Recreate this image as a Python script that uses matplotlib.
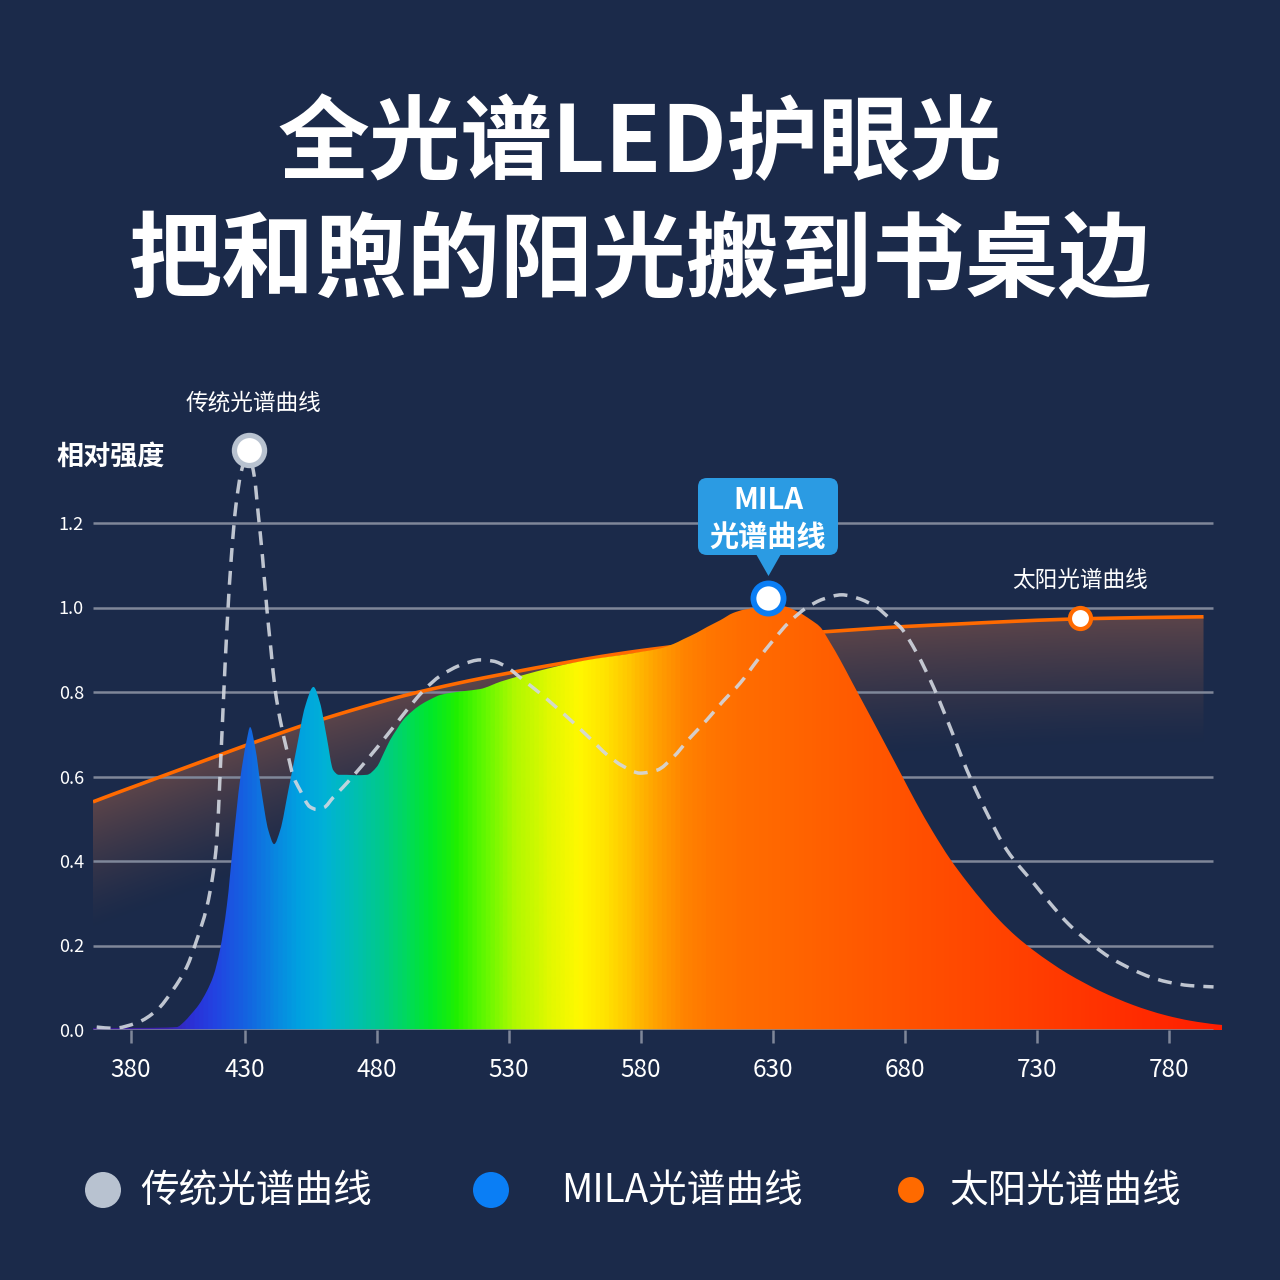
import numpy as np
import matplotlib
matplotlib.use("Agg")
import matplotlib.pyplot as plt
from matplotlib.colors import LinearSegmentedColormap
from matplotlib.patches import FancyBboxPatch, Polygon, Circle, PathPatch
from matplotlib.path import Path

plt.rcParams['font.family'] = ['Noto Sans CJK SC', 'DejaVu Sans']

BG = '#1b2a4a'
GRID = '#7f8799'

title_lines = ['全光谱LED护眼光', '把和煦的阳光搬到书桌边']
y_title = '相对强度'
legend_labels = ['传统光谱曲线', 'MILA光谱曲线', '太阳光谱曲线']
legend_colors = ['#b8c2d0', '#0a7ef5', '#ff6a00']

x_ticks = [386.8, 430, 480, 530, 580, 630, 680, 730, 780]
x_tick_labels = ['380', '430', '480', '530', '580', '630', '680', '730', '780']
y_ticks = [0.0, 0.2, 0.4, 0.6, 0.8, 1.0, 1.2]

# traditional LED spectrum (dashed)
trad_wl = [373.8, 380, 389, 396.6, 402.7, 407.9, 411.7, 415.5, 417.9, 419.3,
           420.5, 421.8, 423.2, 424.8, 426.5, 428.5, 430.5, 432.0, 433.5, 435.0,
           436.6, 438.2, 439.8, 441.4, 443.3, 445.8, 448.3, 450.8, 454.6, 457.2,
           460.0, 463.3, 467.0, 470.9, 477.3, 483.8, 488.7, 493.6, 498.0, 503.9,
           512.6, 519.0, 524.0, 529.1, 535.0, 541.7, 548.0, 554.4, 561.0, 567.0,
           573.0, 579.6, 586.0, 592.2, 598.0, 604.9, 611.0, 617.5, 624.0, 630.1,
           636.0, 642.8, 649.0, 656.0, 662.0, 669.3, 674.0, 678.1, 684.4, 690.7,
           697.0, 703.4, 710.9, 718.5, 728.6, 734.9, 742.0, 750.0, 758.0, 766.5,
           773.0, 779.1, 788.0, 796.8]
trad_val = [0.007, 0.004, 0.017, 0.047, 0.095, 0.149, 0.213, 0.291, 0.371, 0.45,
            0.60, 0.78, 0.96, 1.12, 1.24, 1.32, 1.355, 1.35, 1.31, 1.22,
            1.12, 1.00, 0.90, 0.805, 0.734, 0.663, 0.600, 0.568, 0.528, 0.522,
            0.527, 0.550, 0.574, 0.601, 0.648, 0.698, 0.737, 0.775, 0.806, 0.838,
            0.866, 0.876, 0.873, 0.859, 0.830, 0.797, 0.763, 0.727, 0.688, 0.652,
            0.625, 0.608, 0.615, 0.646, 0.688, 0.734, 0.778, 0.821, 0.875, 0.923,
            0.965, 1.000, 1.020, 1.030, 1.022, 1.000, 0.975, 0.954, 0.892, 0.812,
            0.717, 0.615, 0.514, 0.426, 0.348, 0.300, 0.250, 0.206, 0.170, 0.142,
            0.125, 0.114, 0.105, 0.102]

# MILA full spectrum LED
mila_wl = [372.4, 390, 404.1, 407.0, 409.2, 412.5, 415.5, 418.0, 420.5, 423.1,
           425.6, 428.1, 430.6, 431.9, 433.8, 436.3, 438.8, 441.0, 443.3, 446.4,
           449.6, 452.7, 455.9, 458.4, 460.9, 463.4, 465.5, 468.5, 472.0, 476.1,
           479.9, 482.5, 484.9, 487.5, 489.9, 493.0, 496.3, 500.0, 503.9, 508.0,
           512.7, 519.0, 527.0, 535.3, 545.0, 554.2, 563.0, 573.2, 580.0, 587.2,
           592.0, 596.0, 601.0, 605.0, 610.0, 614.8, 619.0, 623.9, 628.9, 634.0,
           640.2, 644.0, 647.8, 651.5, 655.4, 660.0, 665.6, 672.0, 678.1, 684.0,
           690.6, 697.0, 703.5, 710.0, 716.0, 722.0, 728.5, 735.0, 741.4, 748.0,
           753.9, 760.0, 766.4, 772.0, 779.2, 788.0, 798.2, 800.0]
mila_val = [0.005, 0.005, 0.007, 0.02, 0.035, 0.06, 0.092, 0.128, 0.19, 0.295,
            0.45, 0.592, 0.686, 0.717, 0.67, 0.561, 0.473, 0.44, 0.473, 0.568,
            0.67, 0.765, 0.812, 0.774, 0.694, 0.615, 0.604, 0.604, 0.603, 0.604,
            0.623, 0.655, 0.686, 0.712, 0.734, 0.753, 0.769, 0.782, 0.793, 0.798,
            0.802, 0.807, 0.825, 0.840, 0.856, 0.869, 0.879, 0.888, 0.895, 0.903,
            0.913, 0.925, 0.940, 0.954, 0.970, 0.987, 0.995, 1.000, 1.006, 1.003,
            0.987, 0.972, 0.954, 0.918, 0.876, 0.822, 0.757, 0.682, 0.610, 0.540,
            0.468, 0.405, 0.350, 0.300, 0.258, 0.222, 0.189, 0.160, 0.134, 0.111,
            0.092, 0.075, 0.059, 0.047, 0.034, 0.022, 0.013, 0.012]

# sunlight spectrum
sun_wl = [372.4, 380, 390, 400, 410, 420, 430, 440, 450, 460, 470, 480, 490, 500,
          510, 520, 530, 540, 550, 560, 570, 580, 590, 600, 620, 640, 660, 680,
          700, 720, 740, 760, 780, 793]
sun_val = [0.540, 0.558, 0.581, 0.604, 0.627, 0.650, 0.673, 0.695, 0.717, 0.737,
           0.756, 0.774, 0.791, 0.806, 0.820, 0.833, 0.845, 0.857, 0.868, 0.879,
           0.889, 0.898, 0.906, 0.914, 0.927, 0.938, 0.947, 0.955, 0.961, 0.967,
           0.972, 0.975, 0.977, 0.978]

# highlighted points
trad_mark = (431.5, 1.373)
mila_mark = (628.1, 1.022)
sun_mark = (746.3, 0.975)

# spectrum colour stops (wavelength -> colour)
spec_wl = [372.4, 400, 410, 418, 430, 440, 450, 460, 470, 480, 490, 500, 510,
           520, 532, 545, 556, 566, 576, 586, 596, 606, 620, 640, 680, 720, 760, 800]
spec_col = ['#3d1a90', '#3a22b0', '#2a32d8', '#2244e2', '#1464e0', '#0a84e0',
            '#00a2e0', '#00b2d6', '#00beb4', '#00c890', '#00d860', '#00e82a',
            '#20f000', '#60f800', '#b0f800', '#e0f800', '#fff800', '#ffe400',
            '#ffc400', '#ffa000', '#ff8400', '#ff7600', '#ff6c00', '#ff6400',
            '#ff5200', '#ff4200', '#ff3000', '#ff1e00']

X0, X1 = 372.4, 800.0
GRID_END = 796.7
Y1 = 600 / 422.5


def smooth_path(xs, ys, close_to_zero=False):
    """Bezier path through the points (monotone cubic slopes)"""
    x = np.asarray(xs, float)
    y = np.asarray(ys, float)
    h = np.diff(x)
    d = np.diff(y) / h
    m = np.zeros_like(y)
    m[0], m[-1] = d[0], d[-1]
    for k in range(1, len(x) - 1):
        if d[k - 1] * d[k] > 0:
            w1 = 2 * h[k] + h[k - 1]
            w2 = h[k] + 2 * h[k - 1]
            m[k] = (w1 + w2) / (w1 / d[k - 1] + w2 / d[k])
    verts = [(x[0], y[0])]
    codes = [Path.MOVETO]
    for k in range(len(x) - 1):
        verts += [(x[k] + h[k] / 3, y[k] + m[k] * h[k] / 3),
                  (x[k + 1] - h[k] / 3, y[k + 1] - m[k + 1] * h[k] / 3),
                  (x[k + 1], y[k + 1])]
        codes += [Path.CURVE4] * 3
    if close_to_zero:
        verts += [(x[-1], 0), (x[0], 0), (x[0], y[0])]
        codes += [Path.LINETO, Path.LINETO, Path.CLOSEPOLY]
    return Path(verts, codes)


fig = plt.figure(figsize=(12.8, 12.8), dpi=100, facecolor=BG)
ax = fig.add_axes([93 / 1280, 1 - 1030 / 1280, (1222 - 93) / 1280, 600 / 1280])
ax.set_facecolor('none')
ax.set_xlim(X0, X1)
ax.set_ylim(0, Y1)
for s in ax.spines.values():
    s.set_visible(False)

ax.set_xticks(x_ticks)
ax.set_xticklabels(x_tick_labels)
ax.set_yticks(y_ticks)
ax.set_yticklabels(['%.1f' % v for v in y_ticks])
ax.tick_params(axis='x', length=9.5, width=1.8, color=GRID, pad=10,
               labelsize=17.5, labelcolor='white')
ax.tick_params(axis='y', length=0, pad=6.5, labelsize=13, labelcolor='white')

# grid lines
ax.hlines(y_ticks[1:], X0, GRID_END, color=GRID, lw=1.8, zorder=2)
ax.hlines([0], X0, GRID_END, color=GRID, lw=1.8, zorder=6)

# sunlight area with fading fill
sun_area = smooth_path(sun_wl, sun_val, close_to_zero=True)
xs = np.linspace(X0, X1, 700)
ys = np.linspace(0, Y1, 500)
XX, YY = np.meshgrid(xs, ys)
top = np.interp(xs, sun_wl, sun_val)[None, :]
alpha = np.clip(1 - (top - YY) / 0.3, 0, 1) ** 1.3
rgba = np.zeros(XX.shape + (4,))
rgba[..., 0], rgba[..., 1], rgba[..., 2] = 0.36, 0.27, 0.29
rgba[..., 3] = alpha
im_sun = ax.imshow(rgba, extent=[X0, X1, 0, Y1], origin='lower', aspect='auto',
                   zorder=1, interpolation='bilinear')
im_sun.set_clip_path(sun_area, ax.transData)
ax.add_patch(PathPatch(smooth_path(sun_wl, sun_val), fill=False,
                       ec='#ff6a00', lw=2.6, zorder=3, capstyle='butt'))

# MILA rainbow area
cmap = LinearSegmentedColormap.from_list(
    'spec', [((w - X0) / (X1 - X0), c) for w, c in zip(spec_wl, spec_col)])
mila_area = smooth_path(mila_wl, mila_val, close_to_zero=True)
grad = cmap(np.linspace(0, 1, 1000))[None, :, :]
im_mila = ax.imshow(grad, extent=[X0, X1, 0, Y1], origin='lower', aspect='auto',
                    zorder=4, interpolation='bilinear')
im_mila.set_clip_path(mila_area, ax.transData)

# traditional spectrum dashed
ax.add_patch(PathPatch(smooth_path(trad_wl, trad_val), fill=False,
                       ec='#d2d7e0', lw=2.5, ls=(0, (4, 2.6)), zorder=5,
                       alpha=0.9))

# markers
ax.scatter([trad_mark[0]], [trad_mark[1]], s=470, facecolor='white',
           edgecolor='#b8c2d0', lw=3.8, zorder=7, clip_on=False)
ax.scatter([mila_mark[0]], [mila_mark[1]], s=470, facecolor='white',
           edgecolor='#0a7ef5', lw=4.2, zorder=7, clip_on=False)
ax.scatter([sun_mark[0]], [sun_mark[1]], s=230, facecolor='white',
           edgecolor='#ff6a00', lw=3.0, zorder=7, clip_on=False)

# overlay for titles, labels and legend (pixel coordinates)
ov = fig.add_axes([0, 0, 1, 1])
ov.set_xlim(0, 1280)
ov.set_ylim(1280, 0)
ov.axis('off')
ov.patch.set_alpha(0)

ov.text(640, 145, title_lines[0], ha='center', va='center', fontsize=66,
        fontweight='bold', color='white')
ov.text(640, 263, title_lines[1], ha='center', va='center', fontsize=67,
        fontweight='bold', color='white')

ov.text(56, 457, y_title, ha='left', va='center', fontsize=19.5,
        fontweight='bold', color='white')
ov.text(253, 403, legend_labels[0], ha='center', va='center', fontsize=16.3,
        color='white')
ov.text(1080, 580, legend_labels[2], ha='center', va='center', fontsize=16.3,
        color='white')

# MILA callout
ov.add_patch(FancyBboxPatch((698, 478), 140, 77,
                            boxstyle='round,pad=0,rounding_size=9',
                            fc='#2b9be3', ec='none'))
ov.add_patch(Polygon([(756, 554), (781, 554), (768.5, 576)], closed=True,
                     fc='#2b9be3', ec='none'))
ov.text(768, 500, 'MILA', ha='center', va='center', fontsize=21,
        fontweight='bold', color='white')
ov.text(768, 537, '光谱曲线', ha='center', va='center', fontsize=21,
        fontweight='bold', color='white')

# legend
leg_x = [103, 491, 911]
leg_r = [18, 18, 13]
leg_tx = [140, 561, 950]
for cx, r, tx, lab, col in zip(leg_x, leg_r, leg_tx, legend_labels, legend_colors):
    ov.add_patch(Circle((cx, 1190), r, fc=col, ec='none'))
    ov.text(tx, 1191, lab, ha='left', va='center', fontsize=27.8, color='white')

fig.savefig('out.png', dpi=100, facecolor=BG)
